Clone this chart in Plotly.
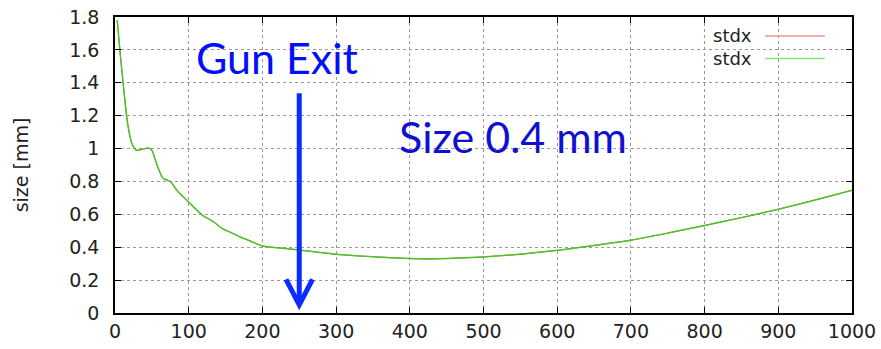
import plotly.graph_objects as go

# Data
z_pos = [3, 7, 11, 16, 20, 23, 29, 37, 45, 50, 57, 65, 75, 85, 100, 110, 120, 132, 145, 157, 170, 185, 200, 225, 250, 300, 350, 400, 423, 450, 500, 550, 600, 650, 700, 750, 800, 850, 900, 950, 1000]
size_mm = [1.78, 1.58, 1.40, 1.19, 1.08, 1.03, 0.99, 0.995, 1.003, 0.99, 0.90, 0.82, 0.80, 0.74, 0.675, 0.63, 0.59, 0.56, 0.515, 0.49, 0.462, 0.435, 0.408, 0.395, 0.383, 0.357, 0.342, 0.331, 0.329, 0.331, 0.341, 0.358, 0.381, 0.411, 0.443, 0.486, 0.532, 0.580, 0.631, 0.687, 0.746]
x_ticks = [0, 100, 200, 300, 400, 500, 600, 700, 800, 900, 1000]
y_ticks = [0, 0.2, 0.4, 0.6, 0.8, 1, 1.2, 1.4, 1.6, 1.8]
legend_names = ["stdx", "stdx"]
arrow_x = 250

fig = go.Figure()
fig.add_trace(go.Scatter(x=z_pos, y=size_mm, mode="lines", name=legend_names[0],
                         line=dict(color="#ff5050", width=1.0, shape="spline", smoothing=0.6)))
fig.add_trace(go.Scatter(x=z_pos, y=size_mm, mode="lines", name=legend_names[1],
                         line=dict(color="#48c428", width=1.5, shape="spline", smoothing=0.6)))

axis_common = dict(showline=True, linecolor="black", linewidth=1.5, mirror="allticks",
                   ticks="inside", ticklen=6, tickcolor="black", tickwidth=1.2,
                   showgrid=True, gridcolor="#9a9a9a", griddash="dot", gridwidth=1,
                   zeroline=False, automargin=False,
                   tickfont=dict(family="DejaVu Sans", size=19, color="#222"))

fig.update_layout(
    width=881, height=349, margin=dict(l=115, r=29, t=17, b=36),
    paper_bgcolor="white", plot_bgcolor="white", showlegend=False,
    xaxis=dict(range=[0, 1000], tickvals=x_ticks, ticklabelstandoff=0, **axis_common),
    yaxis=dict(range=[0, 1.8], tickvals=y_ticks, ticklabelstandoff=10,
               title=dict(text="size [mm]", font=dict(family="DejaVu Sans", size=19, color="#222"), standoff=36),
               **axis_common),
)

# manual gnuplot-style legend (text left of line)
leg_y = [0.936, 0.860]
leg_cols = ["#ff8c8c", "#7ee87e"]
for name, yy, col in zip(legend_names, leg_y, leg_cols):
    fig.add_annotation(xref="paper", yref="paper", x=0.864, y=yy, text=name, showarrow=False,
                       xanchor="right", yanchor="middle", xshift=2,
                       font=dict(family="DejaVu Sans", size=18, color="#222"))
    fig.add_shape(type="line", xref="paper", yref="paper", x0=0.882, x1=0.963, y0=yy, y1=yy,
                  line=dict(color=col, width=1.5))

# Annotations
fig.add_annotation(xref="paper", yref="paper", x=0.2198, y=0.862, text="Gun Exit", showarrow=False,
                   xanchor="center", yanchor="middle", font=dict(family="Lato", size=43, color="#0010f8"))
fig.add_annotation(xref="paper", yref="paper", x=0.540, y=0.596, text="Size 0.4 mm", showarrow=False,
                   xanchor="center", yanchor="middle", font=dict(family="Lato", size=43, color="#1010d0"))

# Arrow
fig.add_shape(type="line", xref="x", yref="y", x0=arrow_x, x1=arrow_x, y0=1.336, y1=0.06,
              line=dict(color="#0a2cff", width=5))
fig.add_shape(type="path", xref="x", yref="y",
              path=f"M {arrow_x-18},0.205 L {arrow_x},0.05 L {arrow_x+18},0.205",
              line=dict(color="#0a2cff", width=5))

fig.write_html("out.html")
